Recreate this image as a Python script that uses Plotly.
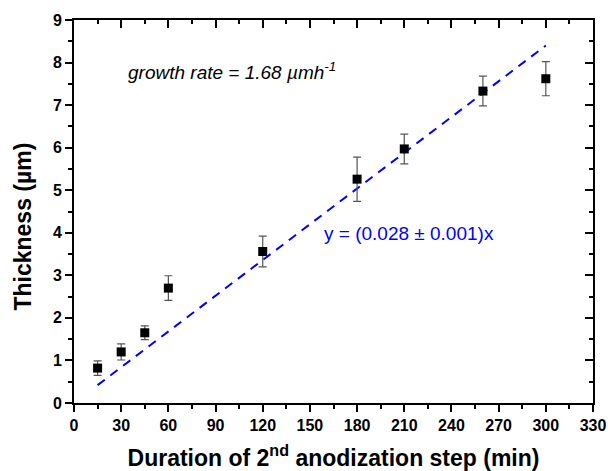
import plotly.graph_objects as go

# Anodization time (min) and measured oxide thickness (µm) with error bars
durations = [15, 30, 45, 60, 120, 180, 210, 260, 300]
thickness = [0.82, 1.20, 1.65, 2.70, 3.56, 5.26, 5.97, 7.33, 7.62]
thickness_err = [0.17, 0.19, 0.16, 0.29, 0.36, 0.52, 0.35, 0.35, 0.40]

# Linear fit through the origin: y = slope * x
slope = 0.028
fit_x = [15, 300]
fit_y = [slope * x for x in fit_x]

x_ticks = list(range(0, 331, 30))
y_ticks = list(range(0, 10))

FONT = "Liberation Sans, Arial, sans-serif"

fig = go.Figure()

fig.add_trace(go.Scatter(
    x=fit_x, y=fit_y, mode="lines",
    line=dict(color="#0000ff", width=2, dash="9px,7px"),
    showlegend=False, hoverinfo="skip",
))

fig.add_trace(go.Scatter(
    x=durations, y=thickness, mode="markers",
    marker=dict(symbol="square", size=9, color="black"),
    error_y=dict(type="data", array=thickness_err, visible=True,
                 color="#555555", thickness=1.2, width=4),
    showlegend=False,
))

# empty trace so the mirrored top/right axes are drawn
fig.add_trace(go.Scatter(x=[], y=[], xaxis="x2", yaxis="y2", showlegend=False))

axis_common = dict(showgrid=False, zeroline=False, showline=True,
                   linecolor="black", linewidth=2, tickcolor="black",
                   tickwidth=1.5, automargin=False)

fig.update_layout(
    width=608, height=471,
    margin=dict(l=74, r=15, t=20, b=68),
    paper_bgcolor="white", plot_bgcolor="white",
    font=dict(family=FONT, color="black"),
    xaxis=dict(
        range=[0, 330], tickvals=x_ticks, ticks="outside", ticklen=7,
        tickfont=dict(size=16, weight="bold"),
        minor=dict(dtick=15, ticks="outside", ticklen=4, tickwidth=1.5, tickcolor="black"),
        title=dict(text="Duration of 2<sup>nd</sup> anodization step (min)",
                   font=dict(size=23, weight="bold"), standoff=17),
        **axis_common,
    ),
    yaxis=dict(
        range=[0, 9], tickvals=y_ticks, ticks="outside", ticklen=7,
        tickfont=dict(size=16, weight="bold"),
        minor=dict(dtick=0.5, ticks="outside", ticklen=4, tickwidth=1.5, tickcolor="black"),
        **axis_common,
    ),
    xaxis2=dict(
        overlaying="x", side="top", range=[0, 330], tickvals=x_ticks,
        ticks="inside", ticklen=8, showticklabels=False,
        minor=dict(dtick=15, ticks="inside", ticklen=4, tickwidth=1.5, tickcolor="black"),
        **axis_common,
    ),
    yaxis2=dict(
        overlaying="y", side="right", range=[0, 9], tickvals=y_ticks,
        ticks="inside", ticklen=8, showticklabels=False,
        minor=dict(dtick=0.5, ticks="inside", ticklen=4, tickwidth=1.5, tickcolor="black"),
        **axis_common,
    ),
    annotations=[
        dict(text="Thickness (µm)", xref="paper", yref="paper",
             x=-0.098, y=0.461, xanchor="center", yanchor="middle",
             textangle=-90, showarrow=False,
             font=dict(size=23, weight="bold", family=FONT)),
        dict(text="<i>growth rate = 1.68 µmh<sup>-1</sup></i>",
             x=33, y=7.8, xanchor="left", yanchor="middle", showarrow=False,
             font=dict(size=19, family=FONT, color="black")),
        dict(text="y = (0.028 ± 0.001)x",
             x=158, y=3.98, xanchor="left", yanchor="middle", showarrow=False,
             font=dict(size=19, family=FONT, color="#0000ff")),
    ],
)

fig.write_html("out.html")
